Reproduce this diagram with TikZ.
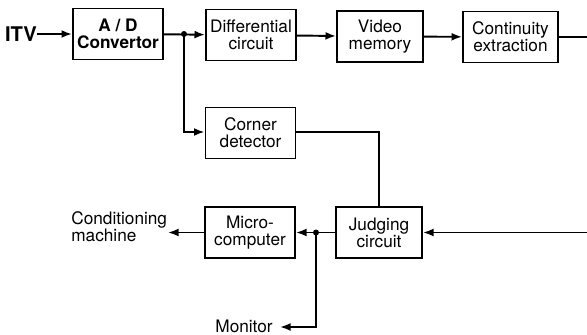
\documentclass[tikz,border=0pt]{standalone}
\usepackage{fontspec}
\setmainfont{TeX Gyre Heros}
\usetikzlibrary{arrows.meta}

\tikzset{
    block/.style={draw, line width=1.1pt, minimum width=1.8cm, minimum height=1.02cm,
        align=center, inner sep=1pt, font=\fontsize{9.8}{9.8}\selectfont},
    flow/.style={line width=1.1pt, -{Latex[length=6pt, width=4.5pt]}},
    wire/.style={line width=1.1pt},
    label/.style={font=\fontsize{9.8}{9.8}\selectfont, inner sep=0pt},
}

\begin{document}
\begin{tikzpicture}[x=0.02cm, y=-0.02cm]
        \useasboundingbox (0,0) rectangle (587,334);

        % top row
        \node[block, font=\bfseries\fontsize{9.8}{9.8}\selectfont] (adc) at (118,34) {A / D\\Convertor};
        \node[block] (diff) at (251,35) {Differential\\circuit};
        \node[block, minimum width=1.72cm] (video) at (380,36.5) {Video\\memory};
        \node[block, minimum width=1.9cm] (cont) at (510.5,37) {Continuity\\extraction};

        % lower blocks
        \node[block] (corner) at (250.5,133) {Corner\\detector};
        \node[block, minimum width=1.72cm] (judge) at (379,232.5) {Judging\\circuit};
        \node[block] (micro) at (250,232.5) {Micro-\\computer};

        % texts
        \node[label, font=\bfseries\fontsize{11.5}{11.5}\selectfont] (itv) at (21,34) {ITV};
        \node[label, anchor=west, align=left] (cond) at (71,227) {Conditioning\\machine};
        \node[label, anchor=east] (mon) at (273,326) {Monitor};

        % branch points
        \coordinate (j1) at (184,34);
        \coordinate (c1) at (184,132);
        \coordinate (c2) at (379,132);
        \coordinate (outR) at (587,37);
        \coordinate (inR) at (587,232.5);
        \coordinate (j2) at (316,232.5);
        \coordinate (m1) at (316,327);
        \coordinate (m2) at (280,327);
        \coordinate (condTip) at (168,232.5);

        \draw[flow] (itv) -- (adc);
        \draw[flow] (adc) -- (diff);
        \draw[flow] (diff) -- (video);
        \draw[flow] (video) -- (cont);
        \draw[wire] (cont.east) -- (outR);
        \draw[flow] (j1) -- (c1) -- (corner.west |- c1);
        \draw[wire] (corner.east |- c2) -- (c2) -- (judge.north);
        \draw[flow] (inR) -- (judge.east);
        \draw[flow] (judge.west) -- (micro.east);
        \draw[flow] (j2) -- (m1) -- (m2);
        \draw[flow] (micro.west) -- (condTip);

        \fill (j1) circle (1.7pt);
        \fill (j2) circle (1.7pt);
    \end{tikzpicture}
\end{document}
